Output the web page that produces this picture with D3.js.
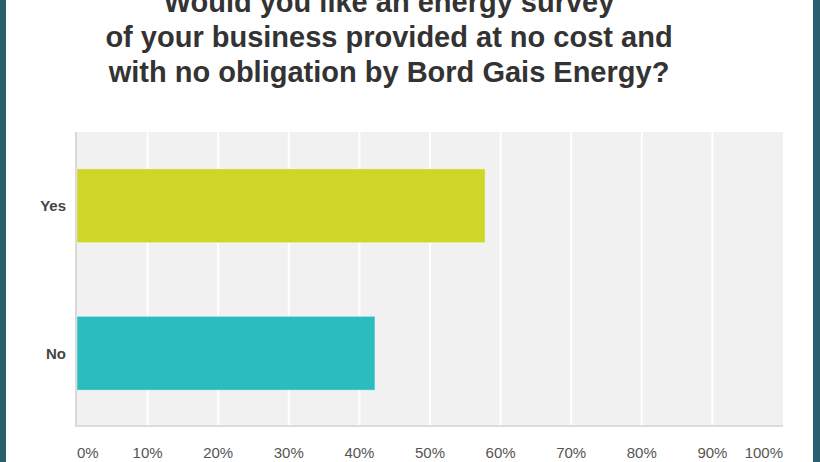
<!DOCTYPE html>
<html>
<head>
<meta charset="utf-8">
<script src="https://cdn.jsdelivr.net/npm/d3@7"></script>
<style>
  html, body { margin: 0; padding: 0; background: #fff; }
  svg { display: block; }
</style>
</head>
<body>
<div id="chart"></div>
<script>
const titleLines = [
  "Would you like an energy survey",
  "of your business provided at no cost and",
  "with no obligation by Bord Gais Energy?"
];
const categories = ["Yes", "No"];
const values = [57.8, 42.2];
const barColors = ["#cdd629", "#2bbdbe"];
const tickValues = [0, 10, 20, 30, 40, 50, 60, 70, 80, 90, 100];
const tickLabels = ["0%", "10%", "20%", "30%", "40%", "50%", "60%", "70%", "80%", "90%", "100%"];

const W = 820, H = 462;
const plot = { left: 77, right: 783, top: 132, bottom: 427 };

const svg = d3.select("#chart").append("svg").attr("width", W).attr("height", H);

// side borders
svg.append("rect").attr("x", 0).attr("y", 0).attr("width", 6).attr("height", H).attr("fill", "#2c5f6d");
svg.append("rect").attr("x", 813).attr("y", 0).attr("width", 7).attr("height", H).attr("fill", "#2c5f6d");

// title
svg.append("g").selectAll("text").data(titleLines).join("text")
  .attr("x", 389)
  .attr("y", (d, i) => 12 + i * 35)
  .attr("text-anchor", "middle")
  .attr("font-family", "Liberation Sans, Arial, sans-serif")
  .attr("font-weight", "bold")
  .attr("font-size", 29)
  .attr("fill", "#333333")
  .text(d => d);

const x = d3.scaleLinear().domain([0, 100]).range([plot.left, plot.right]);
const y = d3.scaleBand().domain(categories).range([plot.top, plot.bottom]).paddingInner(0.5).paddingOuter(0.25);

// plot background
svg.append("rect")
  .attr("x", plot.left).attr("y", plot.top)
  .attr("width", plot.right - plot.left).attr("height", plot.bottom - plot.top)
  .attr("fill", "#f1f1f1");

// gridlines
svg.append("g").selectAll("line").data(tickValues.slice(1, -1)).join("line")
  .attr("x1", d => x(d)).attr("x2", d => x(d))
  .attr("y1", plot.top).attr("y2", plot.bottom)
  .attr("stroke", "#ffffff").attr("stroke-width", 2);

// left and bottom border lines
svg.append("line").attr("x1", plot.left - 1).attr("x2", plot.left - 1)
  .attr("y1", plot.top).attr("y2", plot.bottom)
  .attr("stroke", "#d9d9d9").attr("stroke-width", 2);
svg.append("line").attr("x1", plot.left - 2).attr("x2", plot.right)
  .attr("y1", plot.bottom - 1).attr("y2", plot.bottom - 1)
  .attr("stroke", "#dcdcdc").attr("stroke-width", 2);

// bars
svg.append("g").selectAll("rect").data(categories).join("rect")
  .attr("x", x(0))
  .attr("y", d => y(d))
  .attr("width", (d, i) => x(values[i]) - x(0))
  .attr("height", y.bandwidth())
  .attr("fill", (d, i) => barColors[i])
  .attr("stroke", "rgba(255,255,255,0.35)")
  .attr("stroke-width", 1);

// category labels
svg.append("g").selectAll("text").data(categories).join("text")
  .attr("x", 66)
  .attr("y", d => y(d) + y.bandwidth() / 2)
  .attr("dy", "0.35em")
  .attr("text-anchor", "end")
  .attr("font-family", "Liberation Sans, Arial, sans-serif")
  .attr("font-weight", "bold")
  .attr("font-size", 15)
  .attr("fill", "#454545")
  .text(d => d);

// x tick labels
svg.append("g").selectAll("text").data(tickValues).join("text")
  .attr("x", d => x(d))
  .attr("y", 458)
  .attr("text-anchor", (d, i) => i === 0 ? "start" : (i === tickValues.length - 1 ? "end" : "middle"))
  .attr("font-family", "Liberation Sans, Arial, sans-serif")
  .attr("font-size", 15)
  .attr("fill", "#555555")
  .text((d, i) => tickLabels[i]);
</script>
</body>
</html>
